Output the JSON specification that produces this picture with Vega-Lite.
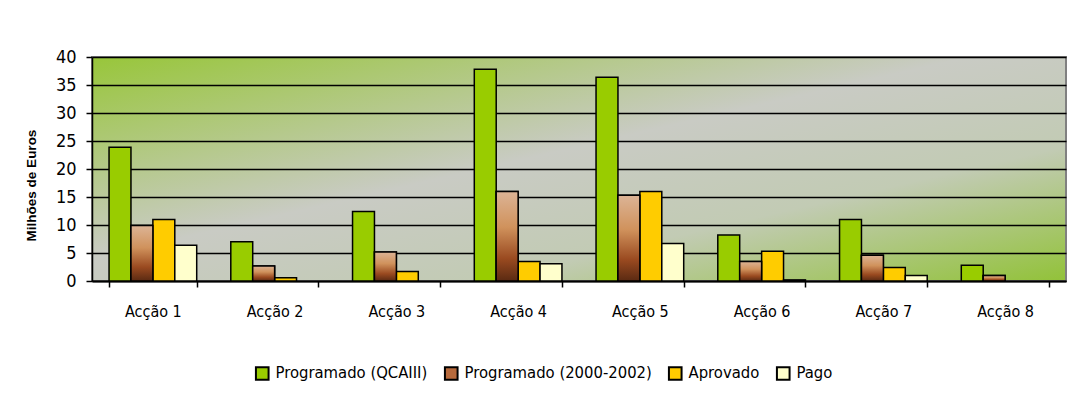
{
  "$schema": "https://vega.github.io/schema/vega-lite/v6.json",
  "width": 974,
  "height": 224,
  "autosize": "none",
  "padding": {"left": 92, "top": 57, "right": 8, "bottom": 115},
  "background": "white",
  "config": {
    "font": "DejaVu Sans Condensed",
    "view": {
      "stroke": "#808080",
      "strokeWidth": 2,
      "fill": {
        "gradient": "linear", "x1": 0, "y1": 0, "x2": 1, "y2": 1,
        "stops": [
          {"offset": 0, "color": "#98c63a"},
          {"offset": 0.45, "color": "#c9cbc4"},
          {"offset": 0.7, "color": "#c2cbb4"},
          {"offset": 1, "color": "#92c239"}
        ]
      }
    }
  },
  "data": {
    "values": [
      {"acao": "Acção 1", "serie": "Programado (QCAIII)", "valor": 23.9},
      {"acao": "Acção 1", "serie": "Programado (2000-2002)", "valor": 9.9},
      {"acao": "Acção 1", "serie": "Aprovado", "valor": 11.0},
      {"acao": "Acção 1", "serie": "Pago", "valor": 6.4},
      {"acao": "Acção 2", "serie": "Programado (QCAIII)", "valor": 7.0},
      {"acao": "Acção 2", "serie": "Programado (2000-2002)", "valor": 2.7},
      {"acao": "Acção 2", "serie": "Aprovado", "valor": 0.6},
      {"acao": "Acção 2", "serie": "Pago", "valor": 0},
      {"acao": "Acção 3", "serie": "Programado (QCAIII)", "valor": 12.4},
      {"acao": "Acção 3", "serie": "Programado (2000-2002)", "valor": 5.2},
      {"acao": "Acção 3", "serie": "Aprovado", "valor": 1.7},
      {"acao": "Acção 3", "serie": "Pago", "valor": 0},
      {"acao": "Acção 4", "serie": "Programado (QCAIII)", "valor": 37.8},
      {"acao": "Acção 4", "serie": "Programado (2000-2002)", "valor": 16.0},
      {"acao": "Acção 4", "serie": "Aprovado", "valor": 3.5},
      {"acao": "Acção 4", "serie": "Pago", "valor": 3.1},
      {"acao": "Acção 5", "serie": "Programado (QCAIII)", "valor": 36.4},
      {"acao": "Acção 5", "serie": "Programado (2000-2002)", "valor": 15.3},
      {"acao": "Acção 5", "serie": "Aprovado", "valor": 16.0},
      {"acao": "Acção 5", "serie": "Pago", "valor": 6.7},
      {"acao": "Acção 6", "serie": "Programado (QCAIII)", "valor": 8.2},
      {"acao": "Acção 6", "serie": "Programado (2000-2002)", "valor": 3.5},
      {"acao": "Acção 6", "serie": "Aprovado", "valor": 5.3},
      {"acao": "Acção 6", "serie": "Pago", "valor": 0.2},
      {"acao": "Acção 7", "serie": "Programado (QCAIII)", "valor": 11.0},
      {"acao": "Acção 7", "serie": "Programado (2000-2002)", "valor": 4.6},
      {"acao": "Acção 7", "serie": "Aprovado", "valor": 2.4},
      {"acao": "Acção 7", "serie": "Pago", "valor": 1.0},
      {"acao": "Acção 8", "serie": "Programado (QCAIII)", "valor": 2.8},
      {"acao": "Acção 8", "serie": "Programado (2000-2002)", "valor": 1.0},
      {"acao": "Acção 8", "serie": "Aprovado", "valor": 0},
      {"acao": "Acção 8", "serie": "Pago", "valor": 0}
    ]
  },
  "encoding": {
    "x": {
      "field": "acao", "type": "nominal", "title": null,
      "sort": ["Acção 1", "Acção 2", "Acção 3", "Acção 4", "Acção 5", "Acção 6", "Acção 7", "Acção 8"],
      "scale": {
        "domain": ["Acção 1", "Acção 2", "Acção 3", "Acção 4", "Acção 5", "Acção 6", "Acção 7", "Acção 8"],
        "paddingInner": 0.28, "paddingOuter": 0.14
      },
      "axis": {
        "labelAngle": 0, "labelFontSize": 16, "labelColor": "#000000", "labelPadding": 16,
        "domainColor": "#000000", "domainWidth": 2,
        "tickColor": "#000000", "tickWidth": 1.5, "tickSize": 6, "tickBand": "extent"
      }
    },
    "xOffset": {
      "field": "serie", "type": "nominal",
      "scale": {"domain": ["Programado (QCAIII)", "Programado (2000-2002)", "Aprovado", "Pago"]}
    },
    "y": {
      "field": "valor", "type": "quantitative",
      "title": "Milhões de Euros",
      "scale": {"domain": [0, 40], "nice": false},
      "axis": {
        "values": [0, 5, 10, 15, 20, 25, 30, 35, 40],
        "labelFontSize": 18, "labelColor": "#000000", "labelPadding": 10,
        "domainColor": "#000000", "domainWidth": 1.5,
        "tickColor": "#000000", "tickWidth": 1.5, "tickSize": 6,
        "gridColor": "#000000", "gridWidth": 1.5,
        "titleFontSize": 13.5, "titleFontWeight": "bold", "titleColor": "#000000",
        "titleFont": "Liberation Sans", "titlePadding": 17, "titleY": 128
      }
    }
  },
  "layer": [
    {
      "transform": [{"filter": "datum.valor > 0"}],
      "mark": {"type": "bar", "stroke": "#000000", "strokeWidth": 1.5, "opacity": 1},
      "encoding": {
        "color": {
          "field": "serie", "type": "nominal",
          "scale": {
            "domain": ["Programado (QCAIII)", "Programado (2000-2002)", "Aprovado", "Pago"],
            "range": ["#99cc00", "#b86a3c", "#ffcc00", "#ffffcc"]
          },
          "legend": {
            "title": null, "orient": "none", "direction": "horizontal",
            "legendX": 157, "legendY": 303,
            "fillColor": "#ffffff", "padding": 5,
            "symbolType": "square", "symbolSize": 160, "symbolStrokeColor": "#000000", "symbolStrokeWidth": 2,
            "labelFontSize": 16.5, "labelColor": "#000000", "labelLimit": 300,
            "columnPadding": 12, "labelOffset": 5
          }
        }
      }
    },
    {
      "transform": [{"filter": "datum.serie === 'Programado (2000-2002)' && datum.valor > 0"}],
      "mark": {
        "type": "bar", "stroke": "#000000", "strokeWidth": 1.5,
        "fill": {
          "gradient": "linear", "x1": 0, "y1": 0, "x2": 0, "y2": 1,
          "stops": [
            {"offset": 0, "color": "#dcb496"},
            {"offset": 0.4, "color": "#d0925c"},
            {"offset": 0.75, "color": "#9a4a20"},
            {"offset": 1, "color": "#5a2a12"}
          ]
        }
      }
    }
  ]
}
